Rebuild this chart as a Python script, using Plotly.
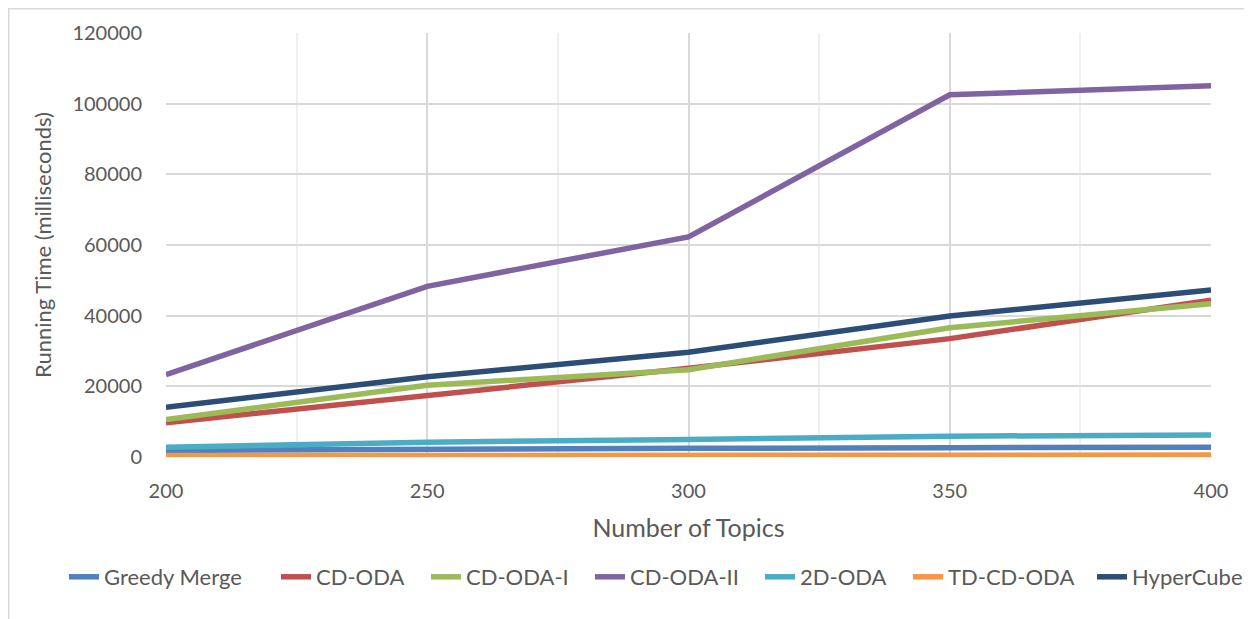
import plotly.graph_objects as go

topics = [200, 250, 300, 350, 400]
greedy_merge = [1850, 2300, 2450, 2650, 2750]
cd_oda = [9700, 17500, 25100, 33500, 44400]
cd_oda_i = [10600, 20300, 24700, 36600, 43400]
cd_oda_ii = [23300, 48300, 62300, 102500, 105100]
two_d_oda = [2750, 4200, 4950, 5900, 6200]
td_cd_oda = [400, 450, 500, 550, 560]
hypercube = [14100, 22700, 29650, 39900, 47240]

series_names = ["Greedy Merge", "CD-ODA", "CD-ODA-I", "CD-ODA-II", "2D-ODA", "TD-CD-ODA", "HyperCube"]
series_values = [greedy_merge, cd_oda, cd_oda_i, cd_oda_ii, two_d_oda, td_cd_oda, hypercube]
series_colors = ["#4F81BD", "#C0504D", "#9BBB59", "#8064A2", "#4BACC6", "#F79646", "#2C4D75"]

# layout: page x where each legend label text begins
legend_text_left = [106, 318, 468, 632, 802, 950, 1134]

FONT = "Lato"
TXT = "#595959"

# the page adds an 8px body margin; figure coordinates below are page - 8
W, H = 1252, 619
L, R, T, B = 158, 49, 25, 169.5
pw, ph = W - L - R, H - T - B
OFF = 8

def px_to_paper_x(px):
    return (px - L) / pw

def px_to_paper_y(py):
    return (H - B - py) / ph

fig = go.Figure()
legend_layouts = {}
for i, (name, vals, color) in enumerate(zip(series_names, series_values, series_colors)):
    lg = "legend" if i == 0 else f"legend{i + 1}"
    fig.add_trace(go.Scatter(x=topics, y=vals, name=name, mode="lines",
                             line=dict(color=color, width=5.5), legend=lg))
    legend_layouts[lg] = dict(
        orientation="h", xref="container", yref="container",
        x=(legend_text_left[i] - OFF - 42) / W, xanchor="left",
        y=(H - (577 - OFF)) / H, yanchor="middle",
        font=dict(size=22, color=TXT, family=FONT),
        bgcolor="rgba(0,0,0,0)", borderwidth=0,
    )

fig.add_shape(type="rect", xref="paper", yref="paper",
              x0=px_to_paper_x(0.75), x1=px_to_paper_x(1300),
              y0=px_to_paper_y(700), y1=px_to_paper_y(0.75),
              line=dict(color="#D9D9D9", width=1.5), layer="below")

fig.update_layout(
    width=W, height=H,
    margin=dict(l=L, r=R, t=T, b=B, autoexpand=False),
    paper_bgcolor="white", plot_bgcolor="white",
    font=dict(family=FONT, color=TXT, size=20),
    showlegend=True,
    **legend_layouts,
)
fig.update_xaxes(
    range=[200, 400], tick0=200, dtick=50, showgrid=True,
    gridcolor="#D9D9D9", gridwidth=1.5, zeroline=False, showline=False,
    ticks="", tickfont=dict(size=20, color=TXT, family=FONT),
    ticklabelstandoff=20,
    title=dict(text="Number of Topics", font=dict(size=25, color=TXT, family=FONT), standoff=18),
    minor=dict(dtick=25, tick0=200, showgrid=True, gridcolor="#EFEFEF", gridwidth=1.5),
)
fig.update_yaxes(
    range=[0, 120000], dtick=20000, showgrid=True,
    gridcolor="#D9D9D9", gridwidth=1.5, zeroline=False, showline=False,
    ticks="", tickfont=dict(size=20, color=TXT, family=FONT),
    ticklabelstandoff=23, tickformat="d",
    title=dict(text="Running Time (milliseconds)", font=dict(size=22, color=TXT, family=FONT), standoff=14),
)

fig.write_html("out.html")
